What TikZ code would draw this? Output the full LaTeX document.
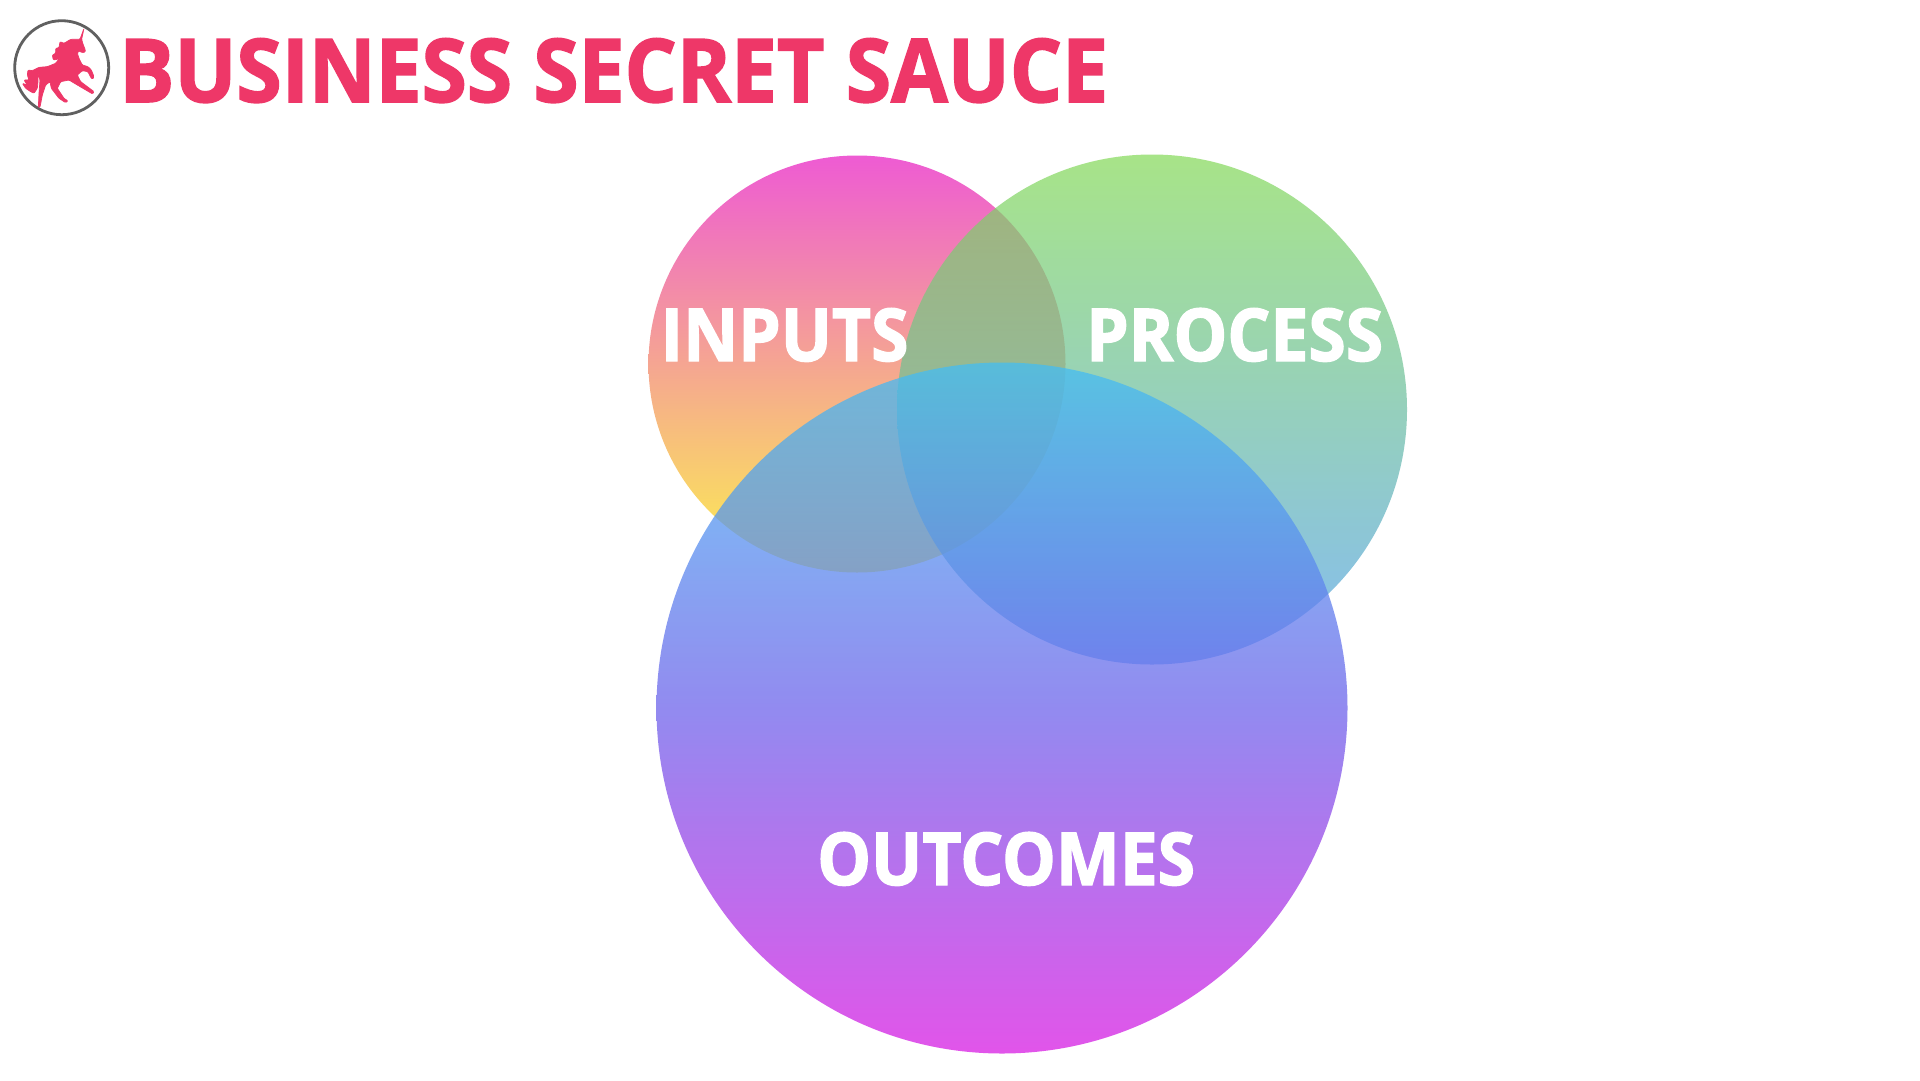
\documentclass[tikz,border=0pt]{standalone}
\usepackage{fontspec}
\setmainfont{Open Sans}
\newfontfamily\heavylabel{Open Sans}[BoldFeatures={FakeBold=1.8,FakeStretch=.928}]
\newfontfamily\heavytitle{Open Sans}[BoldFeatures={FakeBold=1.8,FakeStretch=.933}]
\definecolor{titlered}{HTML}{EE3768}
\definecolor{ringgrey}{HTML}{606060}
\definecolor{inA}{HTML}{EE5BD3}
\definecolor{inB}{HTML}{FCF050}
\definecolor{prA}{HTML}{83D956}
\definecolor{prB}{HTML}{50A0EB}
\definecolor{ouA}{HTML}{44BEF3}
\definecolor{ouM}{HTML}{6E64EB}
\definecolor{ouB}{HTML}{D81CE3}
\tikzset{
  vennlabel/.style={text=white,inner sep=0pt,anchor=base west,font=\heavylabel\bfseries\fontsize{73}{73}\selectfont},
}
\newcommand{\venncircle}[5]{% x y d shade-colours opacity
  \begin{scope}
  \clip (#1,#2) circle[radius=#3/2];
  \shade[#4,opacity=#5] (#1-#3/2-20,#2-#3/2) rectangle (#1+#3/2+20,#2+#3/2);
  \end{scope}
}
\begin{document}
\begin{tikzpicture}[x=1pt,y=-1pt]
\useasboundingbox (0,0) rectangle (1920,1080);
\fill[white] (0,0) rectangle (1920,1080);
\venncircle{857}{364}{417}{top color=inA,bottom color=inB}{1}
\venncircle{1152}{409.5}{510}{top color=prA,bottom color=prB}{.7}
\venncircle{1002}{708}{691}{top color=ouA,bottom color=ouB,middle color=ouM}{.75}
\node[vennlabel] (inputstext) at (660.5,361) {INPUTS};
\node[vennlabel] (processtext) at (1086,361) {PROCESS};
\node[vennlabel] (outcomestext) at (817,885) {OUTCOMES};
\node[text=titlered,inner sep=0pt,anchor=base west,font=\heavytitle\bfseries\fontsize{88}{88}\selectfont] (title) at (119,102) {BUSINESS SECRET SAUCE};
\node[circle,draw=ringgrey,line width=2.8pt,inner sep=0pt,minimum size=94pt] (ring) at (61.7,67.7) {};
\begin{scope}[shift={(14,20)},x=.3333pt,y=-.3333pt]
\filldraw[titlered,line width=.7pt,line join=round,rounded corners=1pt] (210,25) -- (203,58) -- (207,72) -- (214,90) -- (214,96) -- (204,98) -- (195,92) -- (190,100) -- (195,115) -- (205,135) -- (222,140) -- (232,150) -- (240,170) -- (236,178) -- (230,172) -- (222,155) -- (205,152) -- (190,165) -- (200,185) -- (240,215) -- (236,222) -- (190,195) -- (165,180) -- (140,185) -- (130,205) -- (150,235) -- (162,243) -- (155,248) -- (135,235) -- (112,205) -- (108,185) -- (95,195) -- (85,225) -- (78,262) -- (73,262) -- (75,220) -- (78,180) -- (72,160) -- (72,185) -- (70,205) -- (60,220) -- (50,215) -- (35,205) -- (25,190) -- (40,195) -- (30,180) -- (45,180) -- (40,165) -- (42,150) -- (55,152) -- (75,142) -- (100,140) -- (125,130) -- (140,110) -- (130,118) -- (118,120) -- (115,105) -- (125,100) -- (125,85) -- (135,83) -- (138,65) -- (150,70) -- (170,58) -- (190,58) -- (198,58) -- cycle;
\end{scope}
\end{tikzpicture}
\end{document}
